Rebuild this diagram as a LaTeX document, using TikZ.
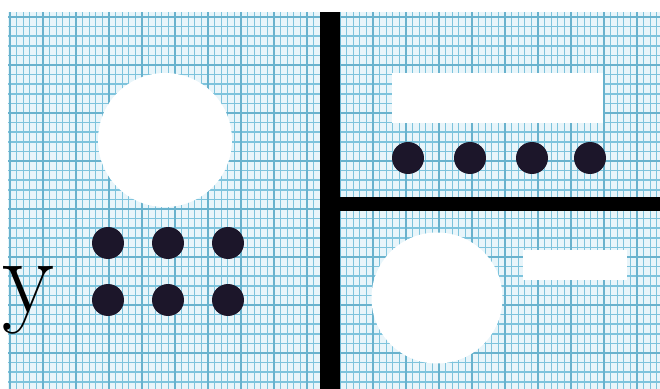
\documentclass[tikz,border=0pt]{standalone}
\usetikzlibrary{positioning}
\definecolor{gridblue}{RGB}{125,195,220}
\definecolor{gridmajor}{RGB}{105,178,205}
\definecolor{paperblue}{RGB}{232,245,250}
\definecolor{dotink}{RGB}{28,22,42}

\begin{document}
\begin{tikzpicture}[x=0.02cm,y=-0.02cm,
      hole/.style={circle,fill=white,inner sep=0pt},
      slot/.style={fill=white},
      dot/.style={circle,fill=dotink,inner sep=0pt,minimum size=0.64cm},
      bar/.style={line width=0.4cm}]
    \useasboundingbox (0,0) rectangle (660,389);
    % Graph paper
    \fill[paperblue] (8,12) rectangle (660,389);
    \foreach \i in {0,...,98}{\draw[gridblue,line width=0.6pt] ({10+6.6*\i},12)--({10+6.6*\i},389);}
    \foreach \j in {0,...,38}{\draw[gridblue,line width=0.9pt] (8,{17+9.6*\j})--(660,{17+9.6*\j});}
    \foreach \i in {0,...,19}{\draw[gridmajor,line width=1pt] ({10+33*\i},12)--({10+33*\i},389);}
    \foreach \j in {0,...,7}{\draw[gridmajor,line width=1.2pt] (8,{17+48*\j})--(660,{17+48*\j});}
    % White cut-outs
    \node[hole,minimum size=2.68cm] (holeL) at (165,140) {};
    \node[hole,minimum size=2.62cm] (holeR) at (437,298) {};
    \fill[slot] (392,73) rectangle (603,123);
    \fill[slot] (523,250) rectangle (627,280);
    % Dots
    \foreach \n/\x/\y in {a/108/243,b/168/243,c/228/243,d/108/300,e/168/300,f/228/300}{\node[dot] (dl\n) at (\x,\y) {};}
    \foreach \n/\x in {a/408,b/470,c/532,d/590}{\node[dot] (dr\n) at (\x,158) {};}
    % Thick bars
    \coordinate (vtop) at (330,12);
    \coordinate (vbot) at (330,389);
    \coordinate (hleft) at (330,204);
    \coordinate (hright) at (660,204);
    \draw[bar] (vtop)--(vbot);
    \draw[bar,line width=0.28cm] (hleft)--(hright);
    \node[anchor=base,inner sep=0pt,font=\fontsize{61}{61}\selectfont] (ylab) at (28,312) {y};
\end{tikzpicture}
\end{document}
